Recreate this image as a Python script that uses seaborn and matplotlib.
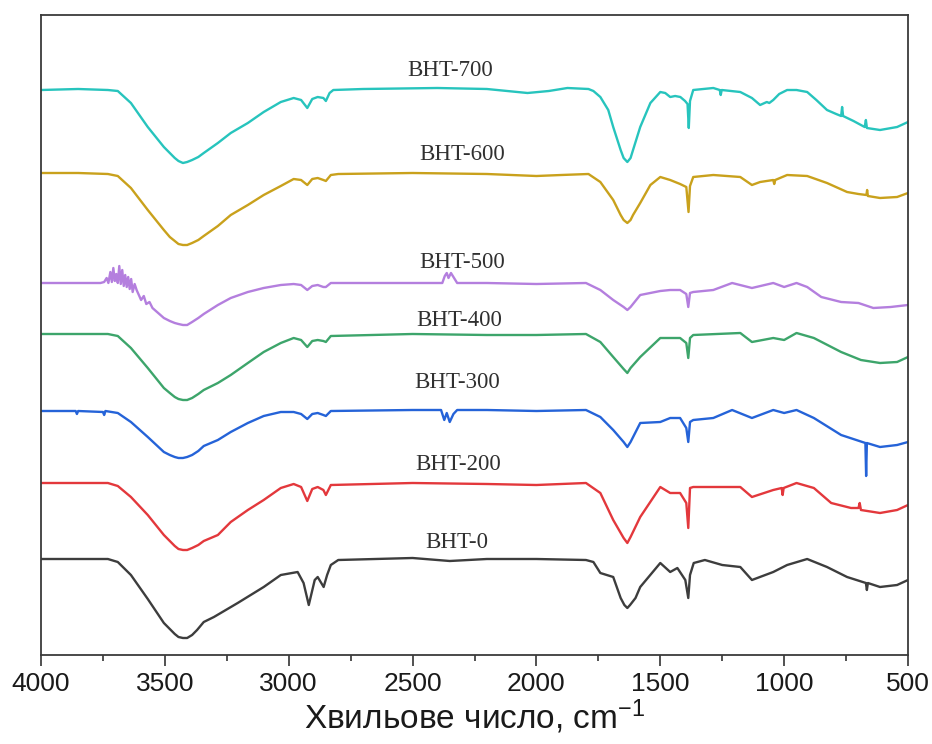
import numpy as np
import pandas as pd
import matplotlib
matplotlib.use("Agg")
import matplotlib.pyplot as plt
import seaborn as sns

# ---------------- data (wavenumber, cm-1 ; offset transmittance, a.u.) ----------------
samples = ["BHT-0", "BHT-200", "BHT-300", "BHT-400", "BHT-500", "BHT-600", "BHT-700"]

wn_700 = [4000, 3850, 3730, 3690, 3637, 3569, 3504, 3480, 3460, 3445, 3427, 3410, 3390, 3365, 3343, 3286,
          3234, 3165, 3101, 3032, 2980, 2950, 2925, 2905, 2883, 2860, 2850, 2835, 2820, 2700, 2400, 2200,
          2036, 1950, 1875, 1790, 1770, 1742, 1710, 1690, 1660, 1648, 1633, 1620, 1610, 1581, 1540, 1500,
          1480, 1460, 1440, 1419, 1400, 1390, 1385, 1380, 1367, 1286, 1260, 1256, 1252, 1177, 1130, 1097,
          1070, 1060, 1044, 1020, 988, 950, 907, 870, 827, 790, 770, 766, 762, 720, 690, 675,
          670, 666, 613, 544, 500]
t_700 = [565, 566, 565, 564, 552, 528, 508, 502, 497, 494, 492, 493, 495, 498, 502, 512,
         522, 532, 543, 553, 557, 555, 547, 556, 558, 557, 554, 562, 565, 566, 567, 566,
         562, 564, 567, 566, 564, 558, 545, 528, 505, 497, 493, 497, 505, 528, 552, 563,
         562, 558, 559, 558, 554, 551, 527, 554, 565, 567, 565, 560, 565, 563, 557, 550,
         553, 552, 555, 561, 565, 565, 563, 555, 545, 541, 539, 548, 539, 534, 530, 528,
         535, 527, 525, 528, 533]

wn_600 = [4000, 3850, 3730, 3690, 3637, 3569, 3504, 3480, 3460, 3445, 3427, 3410, 3390, 3365, 3343, 3286,
          3234, 3165, 3101, 3032, 2980, 2950, 2925, 2905, 2883, 2860, 2850, 2830, 2800, 2500, 2200, 2000,
          1900, 1790, 1742, 1690, 1660, 1648, 1633, 1620, 1610, 1581, 1540, 1500, 1460, 1420, 1395, 1386,
          1380, 1367, 1286, 1177, 1130, 1097, 1044, 1040, 1036, 988, 907, 827, 746, 700, 668, 665,
          662, 613, 544, 500]
t_600 = [482, 482, 481, 479, 467, 445, 425, 418, 414, 411, 410, 410, 412, 415, 419, 429,
         440, 450, 460, 469, 476, 475, 470, 476, 477, 475, 474, 480, 481, 482, 481, 479,
         480, 481, 473, 455, 440, 435, 432, 435, 440, 452, 470, 478, 475, 471, 468, 443,
         469, 478, 480, 478, 470, 473, 475, 471, 475, 480, 479, 472, 463, 461, 460, 465,
         459, 457, 458, 462]

wn_500 = [4000, 3850, 3760, 3745, 3735, 3728, 3720, 3714, 3708, 3702, 3696, 3690, 3684, 3678, 3672, 3666,
          3660, 3654, 3648, 3642, 3636, 3630, 3622, 3614, 3605, 3596, 3585, 3575, 3562, 3550, 3504, 3480,
          3460, 3445, 3427, 3410, 3390, 3365, 3343, 3286, 3234, 3165, 3101, 3032, 2980, 2950, 2925, 2905,
          2883, 2860, 2850, 2830, 2500, 2380, 2370, 2362, 2355, 2345, 2335, 2320, 2200, 2000, 1800, 1742,
          1690, 1648, 1633, 1620, 1581, 1500, 1460, 1420, 1395, 1387, 1380, 1367, 1286, 1210, 1130, 1044,
          1000, 950, 907, 850, 770, 700, 640, 570, 500]
t_500 = [372, 372, 372, 373, 377, 372, 383, 373, 387, 374, 381, 372, 389, 371, 385, 369,
         380, 368, 378, 366, 376, 363, 371, 365, 360, 355, 359, 351, 353, 347, 337, 334,
         332, 331, 330, 330, 333, 337, 341, 350, 357, 363, 367, 370, 371, 370, 365, 369,
         370, 368, 368, 372, 372, 372, 379, 382, 377, 382, 378, 372, 372, 371, 372, 365,
         355, 348, 345, 348, 360, 364, 365, 365, 361, 348, 362, 363, 365, 372, 367, 372,
         368, 372, 368, 358, 353, 352, 347, 348, 350]

wn_400 = [4000, 3730, 3690, 3637, 3569, 3504, 3480, 3460, 3445, 3427, 3410, 3390, 3365, 3343, 3286, 3234,
          3165, 3101, 3032, 2980, 2950, 2925, 2905, 2883, 2860, 2850, 2830, 2500, 2200, 2000, 1800, 1742,
          1690, 1648, 1633, 1620, 1581, 1500, 1420, 1395, 1387, 1380, 1367, 1177, 1130, 1044, 1000, 950,
          880, 770, 690, 613, 544, 500]
t_400 = [321, 321, 319, 307, 287, 267, 262, 258, 256, 255, 255, 257, 261, 265, 272, 280,
         292, 303, 312, 317, 315, 308, 314, 315, 314, 313, 319, 321, 320, 320, 321, 313,
         298, 286, 282, 287, 298, 317, 317, 312, 297, 317, 320, 322, 313, 317, 315, 322,
         317, 303, 295, 292, 293, 298]

wn_300 = [4000, 3860, 3855, 3850, 3750, 3745, 3740, 3690, 3637, 3569, 3504, 3480, 3460, 3445, 3427, 3410,
          3390, 3365, 3343, 3286, 3234, 3165, 3101, 3032, 2980, 2950, 2925, 2905, 2883, 2860, 2850, 2830,
          2500, 2385, 2372, 2362, 2350, 2335, 2320, 2200, 2000, 1800, 1742, 1690, 1648, 1633, 1620, 1581,
          1500, 1460, 1420, 1395, 1387, 1380, 1367, 1286, 1210, 1130, 1044, 1000, 950, 880, 770, 672,
          669, 666, 613, 544, 500]
t_300 = [244, 244, 241, 244, 243, 240, 244, 242, 233, 218, 203, 200, 198, 197, 197, 198,
         200, 204, 209, 215, 223, 232, 239, 243, 243, 241, 236, 241, 242, 240, 239, 244,
         245, 245, 235, 242, 233, 241, 245, 245, 244, 245, 238, 225, 213, 208, 213, 232,
         233, 237, 237, 227, 213, 233, 235, 237, 245, 237, 245, 242, 245, 237, 220, 212,
         179, 212, 208, 210, 213]

wn_200 = [4000, 3730, 3690, 3637, 3569, 3504, 3480, 3460, 3445, 3427, 3410, 3390, 3365, 3343, 3286, 3234,
          3165, 3101, 3032, 2980, 2950, 2925, 2905, 2883, 2860, 2850, 2830, 2500, 2200, 2000, 1800, 1742,
          1690, 1648, 1633, 1620, 1581, 1500, 1460, 1420, 1395, 1387, 1380, 1367, 1177, 1130, 1044, 1010,
          1006, 1002, 950, 880, 810, 730, 700, 695, 690, 613, 544, 500]
t_200 = [172, 172, 169, 158, 140, 120, 114, 109, 106, 105, 105, 107, 110, 114, 120, 133,
         145, 155, 167, 171, 168, 154, 166, 168, 165, 160, 170, 172, 171, 170, 172, 162,
         135, 117, 112, 118, 138, 168, 162, 162, 152, 127, 167, 168, 168, 158, 165, 167,
         160, 167, 172, 167, 152, 147, 147, 152, 145, 142, 145, 150]

wn_0 = [4000, 3730, 3690, 3637, 3569, 3504, 3480, 3460, 3445, 3427, 3410, 3390, 3370, 3343, 3302, 3206,
        3101, 3032, 2964, 2940, 2919, 2895, 2883, 2859, 2845, 2830, 2800, 2500, 2350, 2200, 2000, 1800,
        1770, 1742, 1690, 1660, 1645, 1633, 1622, 1600, 1581, 1500, 1460, 1431, 1399, 1387, 1380, 1365,
        1320, 1250, 1177, 1130, 1044, 988, 907, 827, 746, 670, 666, 662, 613, 544, 500]
t_0 = [96, 96, 93, 80, 56, 32, 26, 21, 18, 17, 17, 20, 25, 33, 38, 52,
       68, 80, 83, 72, 50, 75, 78, 68, 80, 90, 95, 97, 94, 96, 96, 95,
       93, 82, 78, 57, 50, 47, 50, 57, 68, 92, 83, 87, 75, 57, 80, 92,
       95, 90, 88, 75, 83, 90, 96, 88, 78, 72, 65, 72, 68, 70, 75]

colors = {
    "BHT-700": "#27c4bd",
    "BHT-600": "#c9a11c",
    "BHT-500": "#b47fde",
    "BHT-400": "#3da56b",
    "BHT-300": "#2563d8",
    "BHT-200": "#e3383c",
    "BHT-0": "#3d3d3d",
}

spectra = {
    "BHT-0": (wn_0, t_0),
    "BHT-200": (wn_200, t_200),
    "BHT-300": (wn_300, t_300),
    "BHT-400": (wn_400, t_400),
    "BHT-500": (wn_500, t_500),
    "BHT-600": (wn_600, t_600),
    "BHT-700": (wn_700, t_700),
}

frames = []
for s in samples:
    w, t = spectra[s]
    frames.append(pd.DataFrame({"wn": w, "T": t, "sample": s}))
df = pd.concat(frames, ignore_index=True)

# ---------------- plot ----------------
sns.set_style("ticks")
plt.rcParams["font.family"] = ["Liberation Sans", "DejaVu Sans"]
plt.rcParams["mathtext.fontset"] = "custom"
plt.rcParams["mathtext.rm"] = "Liberation Sans"
plt.rcParams["mathtext.default"] = "regular"

fig = plt.figure(figsize=(9.32, 7.44), dpi=100)
ax = fig.add_axes([41 / 932, 89 / 744, 867 / 932, 640 / 744])

sns.lineplot(data=df, x="wn", y="T", hue="sample", palette=colors, estimator=None,
             sort=False, linewidth=1.7, legend=False, ax=ax)

ax.set_xlim(4000, 500)
ax.set_ylim(0, 640)
ax.set_xticks(np.arange(4000, 499, -500))
ax.set_xticks(np.arange(4000, 499, -250), minor=True)
ax.set_yticks([])
ax.tick_params(axis="x", which="major", direction="out", length=8, width=1.2,
               labelsize=19, colors="#333333", labelcolor="#1a1a1a", pad=4)
ax.tick_params(axis="x", which="minor", direction="out", length=4.5, width=1.2, colors="#333333")
for sp in ax.spines.values():
    sp.set_visible(True)
    sp.set_color("#3a3a3a")
    sp.set_linewidth(1.3)

ax.set_ylabel("")
ax.set_xlabel("Хвильове число, cm$^{-1}$", fontsize=24, color="#1a1a1a", labelpad=1)

label_positions = {
    "BHT-700": (2350, 584),
    "BHT-600": (2300, 500),
    "BHT-500": (2300, 392),
    "BHT-400": (2310, 335),
    "BHT-300": (2320, 273),
    "BHT-200": (2315, 190),
    "BHT-0": (2320, 113),
}
for s, (x, y) in label_positions.items():
    ax.text(x, y, s, ha="center", va="center", fontsize=16.5,
            family=["Liberation Serif", "DejaVu Serif"], color="#303030")

fig.savefig("out.png", dpi=100)
